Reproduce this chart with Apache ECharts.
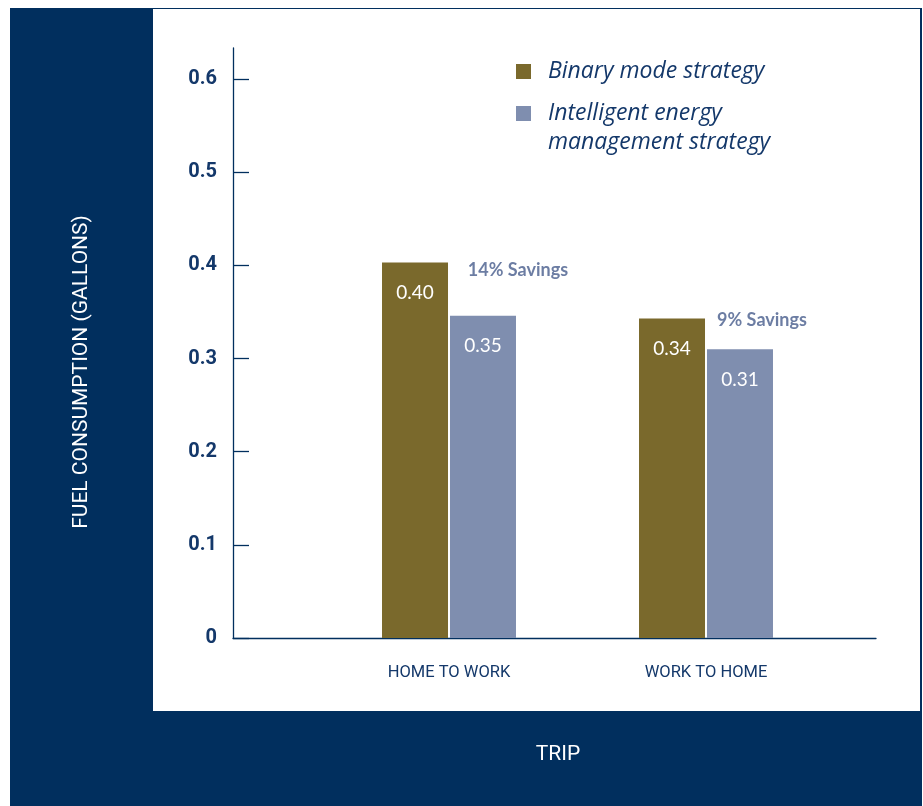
<!DOCTYPE html>
<html><head><meta charset="utf-8">
<script src="https://cdn.jsdelivr.net/npm/echarts@6/dist/echarts.min.js"></script>
<style>
html,body{margin:0;padding:0;background:#fff}#c{width:923px;height:806px}
</style>
</head><body><div id="c"></div>
<script>
const categories = ['HOME TO WORK', 'WORK TO HOME'];
const seriesNames = ['Binary mode strategy', 'Intelligent energy\nmanagement strategy'];
const binaryValues = [0.403, 0.343];
const intelligentValues = [0.346, 0.310];
const yTicks = [0, 0.1, 0.2, 0.3, 0.4, 0.5, 0.6];
const savingsText = ['14% Savings', '9% Savings'];
const savingsValues = [0.395, 0.341];
const savingsOffsetX = [69, 56];

const NAVY = '#012f5e';
const TEXT_NAVY = '#14386a';
const OLIVE = '#7a692c';
const BLUE = '#7f8eaf';
const SAVE = '#475d8c';
const Y_MAX = 0.6333;
const COND = 'Roboto, sans-serif';

function draw() {
  const chart = echarts.init(document.getElementById('c'), null, {renderer: 'canvas'});
  const legendText = {fontFamily: 'Open Sans', fontStyle: 'italic', fontSize: 23, color: TEXT_NAVY, lineHeight: 29, padding: [0, 0, 0, 12]};
  chart.setOption({
    animation: false,
    backgroundColor: '#ffffff',
    graphic: [
      {type: 'rect', z: -10, silent: true, shape: {x: 10, y: 8, width: 912, height: 798}, style: {fill: NAVY}},
      {type: 'rect', z: -9, silent: true, shape: {x: 153, y: 9, width: 767, height: 702}, style: {fill: '#ffffff'}}
    ],
    legend: [
      {left: 516, top: 57, orient: 'vertical', padding: 0, itemWidth: 15, itemHeight: 15, icon: 'rect',
       textStyle: legendText, data: [seriesNames[0]]},
      {left: 516, top: 70, orient: 'vertical', padding: 0, itemWidth: 15, itemHeight: 15, icon: 'rect',
       textStyle: legendText, data: [seriesNames[1]], formatter: n => ' \n' + n}
    ],
    grid: [
      {left: 233, right: 47, top: 48, bottom: 168, containLabel: false},
      {left: 320.5, right: 88.5, top: 48, bottom: 168, containLabel: false}
    ],
    xAxis: [
      {gridIndex: 0, type: 'value', min: 0, max: 1, axisLine: {show: true, onZero: false, lineStyle: {color: NAVY, width: 1.3}},
       axisTick: {show: false}, axisLabel: {show: false}, splitLine: {show: false},
       name: 'TRIP', nameLocation: 'middle', nameGap: 106,
       nameTextStyle: {color: '#ffffff', fontFamily: COND, fontSize: 21, padding: [0, 0, 0, 7]}},
      {gridIndex: 1, type: 'category', data: categories, axisLine: {show: false}, axisTick: {show: false},
       axisLabel: {margin: 26, color: TEXT_NAVY, fontFamily: COND, fontWeight: 'normal', fontSize: 16.5}}
    ],
    yAxis: [
      {gridIndex: 0, type: 'value', min: 0, max: Y_MAX,
       axisLine: {show: true, lineStyle: {color: NAVY, width: 1.3}},
       axisTick: {show: true, inside: true, length: 16, lineStyle: {color: NAVY, width: 1.3}, customValues: yTicks},
       axisLabel: {margin: 16, color: TEXT_NAVY, fontWeight: 'bold', fontFamily: COND, fontSize: 20,
         customValues: yTicks, formatter: v => (v === 0 ? '0' : v.toFixed(1))},
       splitLine: {show: false},
       name: 'FUEL CONSUMPTION (GALLONS)', nameLocation: 'middle', nameGap: 141, nameRotate: 90,
       nameTextStyle: {color: '#ffffff', fontFamily: COND, fontSize: 21, padding: [0, 58, 0, 0]}},
      {gridIndex: 1, type: 'value', min: 0, max: Y_MAX, show: false, splitLine: {show: false}}
    ],
    series: [
      {name: seriesNames[0], type: 'bar', xAxisIndex: 1, yAxisIndex: 1, data: binaryValues,
       barWidth: 66, barGap: '3%', itemStyle: {color: OLIVE},
       label: {show: true, position: 'insideTop', distance: 21, color: '#ffffff', fontFamily: 'Lato', fontSize: 19,
         formatter: p => p.value.toFixed(2)}},
      {name: seriesNames[1], type: 'bar', xAxisIndex: 1, yAxisIndex: 1, data: intelligentValues,
       barWidth: 66, barGap: '3%', itemStyle: {color: BLUE},
       label: {show: true, position: 'insideTop', distance: 21, color: '#ffffff', fontFamily: 'Lato', fontSize: 19,
         formatter: p => p.value.toFixed(2)}},
      {type: 'scatter', xAxisIndex: 1, yAxisIndex: 1, symbolSize: 1, itemStyle: {color: 'rgba(0,0,0,0)'}, silent: true,
       data: savingsValues.map((v, i) => ({
         value: [i, v],
         label: {show: true, position: 'inside', offset: [savingsOffsetX[i], 0], formatter: savingsText[i],
           color: SAVE, fontFamily: 'Lato', fontWeight: 'bold', fontSize: 18}
       }))}
    ]
  });
}
Promise.all([
  document.fonts.load('21px Roboto'), document.fonts.load('bold 20px Roboto'), document.fonts.load('16px Roboto'),
  document.fonts.load('italic 23px "Open Sans"'), document.fonts.load('bold 18px Lato'), document.fonts.load('19px Lato')
]).then(draw, draw);
</script></body></html>
